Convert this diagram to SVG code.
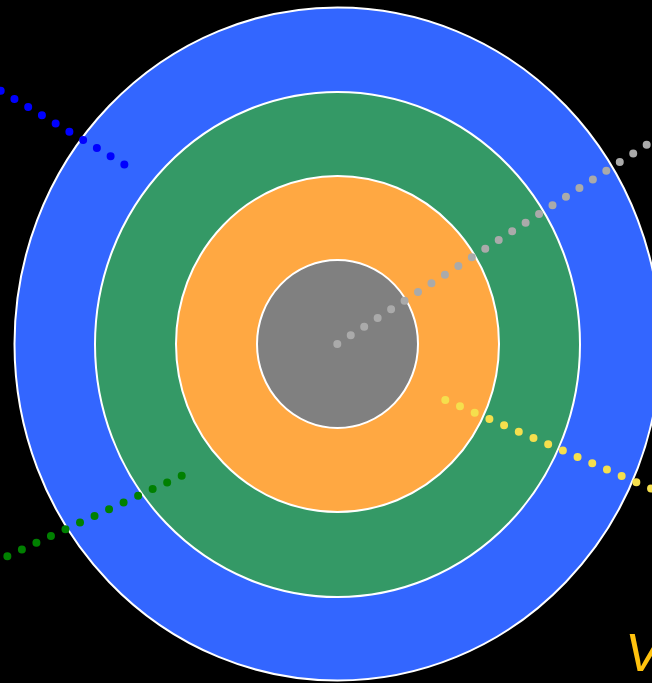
<svg xmlns="http://www.w3.org/2000/svg" width="652" height="683" viewBox="0 0 652 683">
<style>
.ring{stroke:#ffffff;stroke-width:2}
.dots{fill:none;stroke-width:8;stroke-linecap:round;stroke-dasharray:0 16}
.lbl{font-family:"Liberation Sans",Arial,sans-serif;font-style:italic;font-size:54px;fill:#ffc20e}
</style>
<rect x="0" y="0" width="652" height="683" fill="#000000"/>
<g id="ring-blue"><ellipse class="ring" cx="337.5" cy="344" rx="323" ry="336.5" fill="#3366ff"/></g>
<g id="ring-green"><ellipse class="ring" cx="337.5" cy="344.5" rx="242.5" ry="252.5" fill="#349966"/></g>
<g id="ring-orange"><ellipse class="ring" cx="337.5" cy="344" rx="161.5" ry="168" fill="#ffa842"/></g>
<g id="ring-gray"><ellipse class="ring" cx="337.5" cy="344" rx="80.5" ry="84" fill="#808080"/></g>
<g id="connectors">
<line class="dots" x1="337.3" y1="344" x2="646.7" y2="144.7" stroke="#aaaaaa"/>
<line class="dots" x1="0.7" y1="90.7" x2="124.5" y2="164.6" stroke="#0000ff"/>
<line class="dots" x1="181.7" y1="475.7" x2="7" y2="556.3" stroke="#008000"/>
<line class="dots" x1="445.3" y1="400" x2="651.3" y2="488.7" stroke="#f5df4d"/>
</g>
<g id="label"><text class="lbl" x="625" y="671">V</text></g>
</svg>
